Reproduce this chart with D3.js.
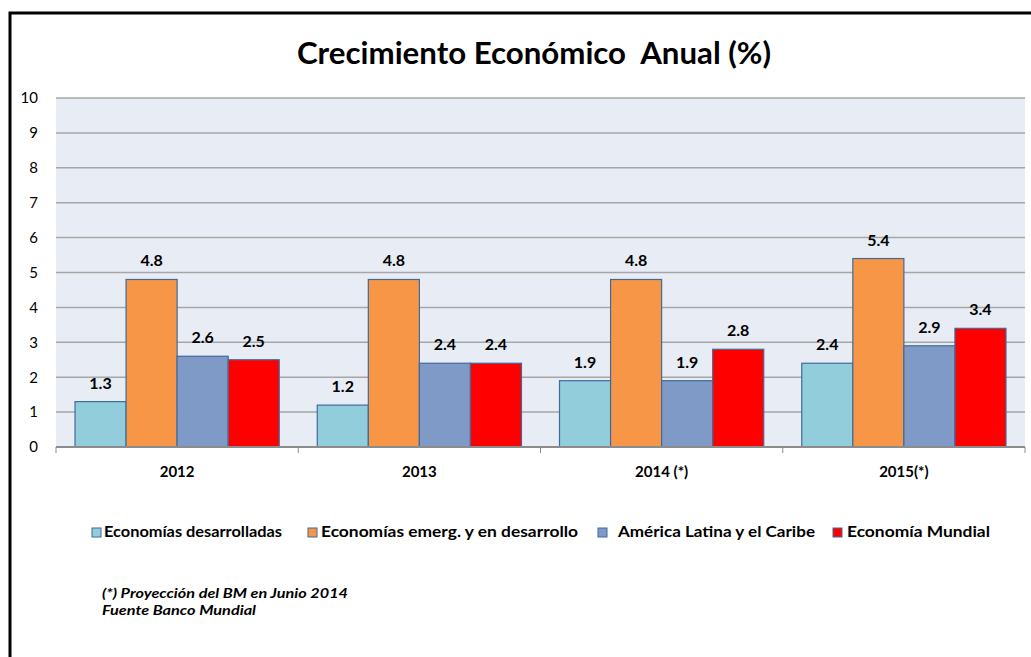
<!DOCTYPE html>
<html lang="es">
<head>
<meta charset="UTF-8">
<title>Crecimiento Económico Anual</title>
<script src="https://cdn.jsdelivr.net/npm/d3@7"></script>
<style>
  body { margin: 0; background: #fff; }
  svg { font-family: Lato, "Open Sans", sans-serif; }
</style>
</head>
<body>
<svg id="chart"></svg>
<script>
// datos
const years = ['2012', '2013', '2014 (*)', '2015(*)'];
const seriesNames = ['Economías desarrolladas', 'Economías emerg. y en desarrollo', 'América Latina y el Caribe', 'Economía Mundial'];
const desarrolladas = [1.3, 1.2, 1.9, 2.4];
const emergentes = [4.8, 4.8, 4.8, 5.4];
const latam = [2.6, 2.4, 1.9, 2.9];
const mundial = [2.5, 2.4, 2.8, 3.4];
const yTicks = [0, 1, 2, 3, 4, 5, 6, 7, 8, 9, 10];
const colors = ['#92cddc', '#f79646', '#7f9ac6', '#ff0000'];

const allSeries = [desarrolladas, emergentes, latam, mundial];

const width = 1031, height = 657;
const margin = {left: 56, right: 6, top: 98, bottom: 210};

const svg = d3.select('#chart').attr('width', width).attr('height', height);

// marco
svg.append('rect')
  .attr('x', 10).attr('y', 13)
  .attr('width', width + 20).attr('height', height + 20)
  .attr('fill', 'none').attr('stroke', '#000').attr('stroke-width', 3);

// título
svg.append('text')
  .attr('x', 534).attr('y', 64)
  .attr('text-anchor', 'middle')
  .style('font-size', '31px').style('font-weight', 'bold')
  .style('white-space', 'pre')
  .attr('textLength', 474).attr('lengthAdjust', 'spacingAndGlyphs')
  .text('Crecimiento Económico  Anual (%)');

const x0 = d3.scaleBand().domain(years)
  .range([margin.left, width - margin.right]).paddingInner(0.157).paddingOuter(0.0785);
const x1 = d3.scaleBand().domain(d3.range(seriesNames.length))
  .range([0, x0.bandwidth()]);
const y = d3.scaleLinear().domain([0, 10]).range([height - margin.bottom, margin.top]);

// fondo del área
svg.append('rect')
  .attr('x', margin.left).attr('y', y(10))
  .attr('width', width - margin.right - margin.left).attr('height', y(0) - y(10))
  .attr('fill', '#e8ecf4');

// líneas de división
svg.append('g').selectAll('line').data(yTicks.slice(1)).join('line')
  .attr('x1', margin.left).attr('x2', width - margin.right)
  .attr('y1', d => y(d)).attr('y2', d => y(d))
  .attr('stroke', '#a6a6a6').attr('stroke-width', 1.5);

// eje y
const yAxis = svg.append('g')
  .attr('transform', `translate(${margin.left - 16},0)`)
  .call(d3.axisLeft(y).tickValues(yTicks).tickSize(0).tickPadding(2));
yAxis.select('.domain').remove();
yAxis.selectAll('text').style('font-size', '15px').attr('fill', '#000').attr('font-family', 'Lato, sans-serif');

// barras
const gapShift = x0.step() * 0.157 / 2;
const groups = svg.append('g').selectAll('g').data(years).join('g')
  .attr('transform', d => `translate(${x0(d) - gapShift},0)`);

groups.each(function(yr, i) {
  const g = d3.select(this);
  const vals = allSeries.map(s => s[i]);
  g.selectAll('rect').data(vals).join('rect')
    .attr('x', (d, j) => gapShift + x1(j))
    .attr('y', d => y(d))
    .attr('width', x1.bandwidth())
    .attr('height', d => y(0) - y(d))
    .attr('fill', (d, j) => colors[j])
    .attr('stroke', '#3f6b9c').attr('stroke-width', 1.2);
  g.selectAll('text').data(vals).join('text')
    .attr('x', (d, j) => gapShift + x1(j) + x1.bandwidth() / 2)
    .attr('y', d => y(d) - 13)
    .attr('text-anchor', 'middle')
    .style('font-size', '16px').style('font-weight', 'bold')
    .text(d => d.toFixed(1));
});

// eje x
const xAxisG = svg.append('g').attr('transform', `translate(0,${y(0)})`);
xAxisG.append('line')
  .attr('x1', margin.left).attr('x2', width - margin.right)
  .attr('stroke', '#8c8c8c').attr('stroke-width', 2);
const sepX = years.map((d, i) => margin.left + i * x0.step()).concat([width - margin.right]);
xAxisG.selectAll('line.sep').data(sepX).join('line').attr('class', 'sep')
  .attr('x1', d => d).attr('x2', d => d).attr('y1', 0).attr('y2', 6)
  .attr('stroke', '#8c8c8c');
xAxisG.selectAll('text').data(years).join('text')
  .attr('x', d => x0(d) + x0.bandwidth() / 2)
  .attr('y', 30)
  .attr('text-anchor', 'middle')
  .style('font-size', '15px').style('font-weight', 'bold')
  .text(d => d);

// leyenda
const legendSq = [92, 308, 598, 833];
const legendTx = [104, 321, 618, 847];
const legendW = [178, 257, 197, 143];
const legend = svg.append('g').selectAll('g').data(seriesNames).join('g');
legend.append('rect')
  .attr('x', (d, i) => legendSq[i]).attr('y', 528).attr('width', 9).attr('height', 9)
  .attr('fill', (d, i) => colors[i]).attr('stroke', '#3f6b9c').attr('stroke-width', 1);
legend.append('text')
  .attr('x', (d, i) => legendTx[i]).attr('y', 537)
  .style('font-size', '16px').style('font-weight', 'bold')
  .attr('textLength', (d, i) => legendW[i]).attr('lengthAdjust', 'spacingAndGlyphs')
  .text(d => d);

// notas
const notes = ['(*) Proyección del BM en Junio 2014', 'Fuente Banco Mundial'];
const notesW = [246, 154];
svg.append('g').selectAll('text').data(notes).join('text')
  .attr('x', 102).attr('y', (d, i) => 598 + i * 17)
  .style('font-size', '14px').style('font-weight', 'bold').style('font-style', 'italic')
  .attr('textLength', (d, i) => notesW[i]).attr('lengthAdjust', 'spacingAndGlyphs')
  .text(d => d);
</script>
</body>
</html>
